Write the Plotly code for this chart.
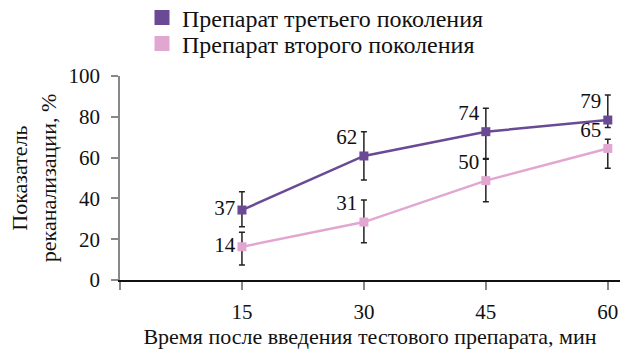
import plotly.graph_objects as go

x_min = [15, 30, 45, 60]
tick_vals_x = [0, 15, 30, 45, 60]
tick_text_x = ["", "15", "30", "45", "60"]

third_name = "Препарат третьего поколения"
third_vals = [34.3, 60.8, 72.7, 78.4]
third_plus = [9.0, 11.9, 11.5, 12.3]
third_minus = [8.2, 11.8, 13.1, 3.7]
third_labels = ["37", "62", "74", "79"]

second_name = "Препарат второго поколения"
second_vals = [16.3, 28.4, 48.7, 64.5]
second_plus = [7.1, 10.8, 10.5, 4.5]
second_minus = [8.9, 10.1, 10.3, 9.7]
second_labels = ["14", "31", "50", "65"]

label_pos = ["middle left", "top left", "top left", "top left"]

purple = "#6a4a94"
pink = "#e2a7d1"
FONT = "Liberation Serif"
f_tick = dict(family=FONT, size=21, color="#111")
f_big = dict(family=FONT, size=22, color="#111")
f_leg = dict(family=FONT, size=24, color="#111")

fig = go.Figure()

for vals, plus, minus, labels, color in [
    (second_vals, second_plus, second_minus, second_labels, pink),
    (third_vals, third_plus, third_minus, third_labels, purple),
]:
    fig.add_trace(go.Scatter(
        x=x_min, y=vals, mode="lines+markers+text",
        text=labels, textposition=label_pos,
        textfont=f_tick,
        line=dict(color=color, width=2.5),
        marker=dict(symbol="square", size=9, color=color),
        error_y=dict(type="data", symmetric=False, array=plus, arrayminus=minus,
                     color="#222", thickness=1.5, width=3),
        showlegend=False, cliponaxis=False,
    ))

for name, color, lg in [(third_name, purple, "legend"), (second_name, pink, "legend2")]:
    fig.add_trace(go.Scatter(
        x=[None], y=[None], mode="markers", name=name, legend=lg,
        marker=dict(symbol="square", size=15, color=color),
    ))

leg_common = dict(x=0.044, xref="paper", yref="container", xanchor="left", yanchor="middle",
                  font=f_leg, itemsizing="trace", bgcolor="rgba(0,0,0,0)")

fig.update_layout(
    template="none",
    width=633, height=351,
    margin=dict(l=120, r=13, t=76, b=71, autoexpand=False),
    paper_bgcolor="white", plot_bgcolor="white",
    font=f_tick,
    legend=dict(y=1 - 18 / 351, **leg_common),
    legend2=dict(y=1 - 44 / 351, **leg_common),
    xaxis=dict(range=[0, 61.5], tickvals=tick_vals_x, ticktext=tick_text_x,
               tickfont=f_tick, ticklabelstandoff=4,
               showline=True, linecolor="#111", linewidth=1.5,
               ticks="outside", ticklen=8, tickcolor="#888", tickwidth=1.5,
               showgrid=False, zeroline=False,
               title=dict(text="Время после введения тестового препарата, мин", standoff=0, font=f_big)),
    yaxis=dict(range=[0, 100], tickvals=[0, 20, 40, 60, 80, 100],
               tickfont=f_tick, ticklabelstandoff=7,
               showline=True, linecolor="#888", linewidth=1.5,
               ticks="outside", ticklen=7, tickcolor="#888", tickwidth=1.5,
               showgrid=False, zeroline=False,
               title=dict(text="Показатель<br>реканализации, %", standoff=6, font=f_big)),
)

fig.write_html("out.html")
